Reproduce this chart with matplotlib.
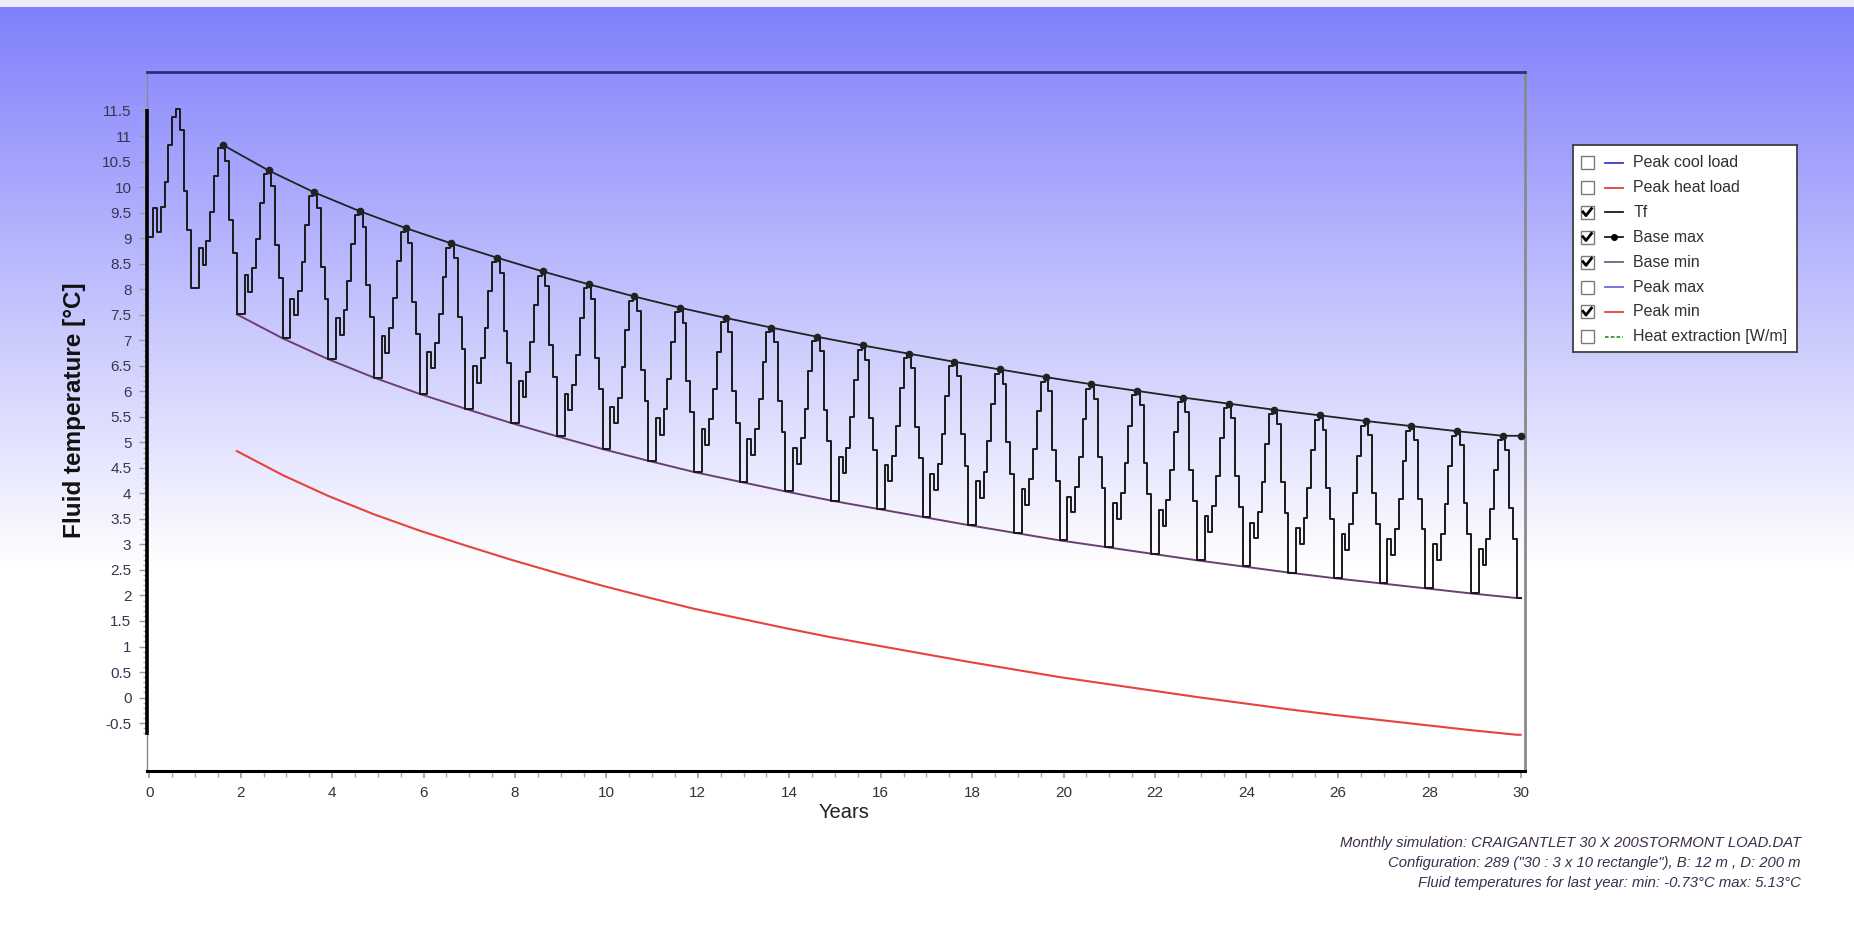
import numpy as np
import matplotlib
matplotlib.use("Agg")
import matplotlib.pyplot as plt
from matplotlib.patches import Rectangle
from matplotlib.ticker import MultipleLocator, FixedLocator, FormatStrFormatter

plt.rcParams['font.family'] = ['Liberation Sans', 'DejaVu Sans']

# monthly fluid temperature Tf [°C], one row per simulation year (Jan..Dec)
tf_monthly = [
    [9.03, 9.59, 9.13, 9.62, 10.11, 10.83, 11.38, 11.53, 11.12, 9.92, 9.17, 8.02],
    [8.02, 8.81, 8.47, 8.95, 9.51, 10.22, 10.77, 10.83, 10.52, 9.35, 8.71, 7.51],
    [7.51, 8.28, 7.94, 8.42, 8.99, 9.70, 10.26, 10.33, 10.03, 8.86, 8.22, 7.04],
    [7.04, 7.82, 7.49, 7.97, 8.54, 9.26, 9.83, 9.90, 9.60, 8.44, 7.81, 6.63],
    [6.63, 7.43, 7.10, 7.59, 8.16, 8.89, 9.46, 9.53, 9.23, 8.08, 7.45, 6.27],
    [6.27, 7.08, 6.76, 7.25, 7.83, 8.55, 9.13, 9.20, 8.91, 7.75, 7.13, 5.95],
    [5.95, 6.77, 6.45, 6.94, 7.52, 8.25, 8.82, 8.90, 8.61, 7.45, 6.83, 5.66],
    [5.66, 6.49, 6.16, 6.66, 7.24, 7.97, 8.54, 8.62, 8.33, 7.18, 6.55, 5.38],
    [5.38, 6.21, 5.89, 6.38, 6.96, 7.69, 8.27, 8.35, 8.06, 6.91, 6.29, 5.12],
    [5.12, 5.95, 5.63, 6.13, 6.71, 7.44, 8.02, 8.10, 7.81, 6.66, 6.04, 4.87],
    [4.87, 5.70, 5.38, 5.88, 6.47, 7.20, 7.78, 7.86, 7.57, 6.42, 5.81, 4.64],
    [4.64, 5.47, 5.15, 5.66, 6.24, 6.97, 7.56, 7.64, 7.35, 6.21, 5.59, 4.42],
    [4.42, 5.27, 4.95, 5.45, 6.04, 6.77, 7.36, 7.44, 7.16, 6.01, 5.39, 4.23],
    [4.23, 5.07, 4.76, 5.26, 5.85, 6.58, 7.17, 7.25, 6.97, 5.82, 5.21, 4.04],
    [4.04, 4.89, 4.57, 5.08, 5.66, 6.40, 6.99, 7.07, 6.79, 5.64, 5.03, 3.86],
    [3.86, 4.71, 4.40, 4.90, 5.49, 6.23, 6.81, 6.90, 6.62, 5.47, 4.86, 3.70],
    [3.70, 4.55, 4.24, 4.74, 5.33, 6.07, 6.65, 6.74, 6.46, 5.31, 4.70, 3.54],
    [3.54, 4.39, 4.07, 4.58, 5.17, 5.91, 6.49, 6.58, 6.30, 5.16, 4.54, 3.38],
    [3.38, 4.24, 3.92, 4.43, 5.02, 5.76, 6.34, 6.43, 6.15, 5.01, 4.39, 3.23],
    [3.23, 4.08, 3.77, 4.28, 4.87, 5.61, 6.19, 6.28, 6.00, 4.86, 4.25, 3.08],
    [3.08, 3.94, 3.63, 4.13, 4.72, 5.46, 6.05, 6.14, 5.86, 4.72, 4.11, 2.95],
    [2.95, 3.81, 3.50, 4.00, 4.59, 5.33, 5.92, 6.01, 5.73, 4.59, 3.98, 2.82],
    [2.82, 3.67, 3.36, 3.87, 4.46, 5.20, 5.79, 5.88, 5.60, 4.46, 3.85, 2.69],
    [2.69, 3.55, 3.24, 3.75, 4.34, 5.08, 5.67, 5.76, 5.48, 4.34, 3.73, 2.57],
    [2.57, 3.43, 3.12, 3.63, 4.22, 4.96, 5.55, 5.64, 5.36, 4.22, 3.61, 2.45],
    [2.45, 3.32, 3.01, 3.52, 4.11, 4.85, 5.44, 5.53, 5.25, 4.11, 3.50, 2.34],
    [2.34, 3.20, 2.89, 3.40, 4.00, 4.74, 5.33, 5.42, 5.14, 4.00, 3.40, 2.24],
    [2.24, 3.10, 2.79, 3.30, 3.90, 4.64, 5.23, 5.32, 5.04, 3.90, 3.30, 2.14],
    [2.14, 3.00, 2.69, 3.20, 3.79, 4.54, 5.13, 5.22, 4.94, 3.81, 3.20, 2.04],
    [2.04, 2.91, 2.60, 3.11, 3.70, 4.45, 5.04, 5.13, 4.85, 3.72, 3.11, 1.95],
]

# yearly envelopes (years 1..29, last value at year 30)
base_max_years = list(np.arange(1, 30) + 0.61) + [30.0]
base_max = [10.83, 10.33, 9.90, 9.53, 9.20, 8.90, 8.62, 8.35, 8.10, 7.86,
            7.64, 7.44, 7.25, 7.07, 6.90, 6.74, 6.58, 6.43, 6.28, 6.14,
            6.01, 5.88, 5.76, 5.64, 5.53, 5.42, 5.32, 5.22, 5.13, 5.13]

min_years = list(np.arange(1, 30) + 11 / 12) + [30.0]
base_min = [7.51, 7.04, 6.63, 6.27, 5.95, 5.66, 5.38, 5.12, 4.87, 4.64,
            4.42, 4.23, 4.04, 3.86, 3.70, 3.54, 3.38, 3.23, 3.08, 2.95,
            2.82, 2.69, 2.57, 2.45, 2.34, 2.24, 2.14, 2.04, 1.95, 1.95]
peak_min = [4.83, 4.36, 3.95, 3.59, 3.27, 2.98, 2.70, 2.44, 2.19, 1.96,
            1.74, 1.55, 1.36, 1.18, 1.02, 0.86, 0.70, 0.55, 0.40, 0.27,
            0.14, 0.01, -0.11, -0.23, -0.34, -0.44, -0.54, -0.64, -0.73, -0.73]

legend_labels = ["Peak cool load", "Peak heat load", "Tf", "Base max",
                 "Base min", "Peak max", "Peak min", "Heat extraction [W/m]"]
legend_checked = [False, False, True, True, True, False, True, False]
legend_colors = ["#3a3ad0", "#e83a3a", "#1a1a1a", "#1a1a1a",
                 "#7a5a80", "#6a6ae8", "#e84040", "#2a9a2a"]

info_lines = [
    "Monthly simulation: CRAIGANTLET 30 X 200STORMONT LOAD.DAT",
    "Configuration: 289 (\"30 : 3 x 10 rectangle\"), B: 12 m , D: 200 m",
    "Fluid temperatures for last year: min: -0.73°C max: 5.13°C",
]

W, H = 1854, 926
fig = plt.figure(figsize=(W / 100, H / 100), dpi=100)

# background gradient blue -> white
bg = fig.add_axes([0, 0, 1, 1], zorder=-10)
rows = np.arange(H)
t = np.clip((rows - 7) / 560.0, 0, 1)
grad = np.ones((H, 1, 3))
grad[:, 0, 0] = (128 + 127 * t) / 255
grad[:, 0, 1] = (128 + 127 * t) / 255
grad[:, 0, 2] = (252 + 3 * t) / 255
grad[:7] = (0.93, 0.93, 0.98)
bg.imshow(grad, aspect='auto', extent=(0, 1, 0, 1))
bg.axis('off')

ax = fig.add_axes([146.7 / W, 1 - 771 / H, (1525 - 146.7) / W, (771 - 72) / H])
ax.set_facecolor('none')

tf = np.array(tf_monthly).ravel()
months = np.arange(len(tf) + 1) / 12
ax.step(months, np.append(tf, tf[-1]), where='post', color='#1a1a1a', lw=1.4, zorder=3)
ax.plot(min_years, base_min, color='#6b3f74', lw=1.4, zorder=2)
ax.plot(min_years, peak_min, color='#e8423a', lw=1.5, zorder=2)
ax.plot(base_max_years, base_max, color='#222222', lw=1.3, marker='o', ms=4.5, zorder=4)

x0, x1 = -0.057, 30.094
ax.set_xlim(x0, x1)
ax.set_ylim(-1.44, 12.26)
ax.set_xticks(np.arange(0, 31, 2))
ax.xaxis.set_minor_locator(MultipleLocator(0.5))
ax.set_yticks(np.arange(-0.5, 11.51, 0.5))
ax.yaxis.set_major_formatter(FormatStrFormatter('%g'))
ax.yaxis.set_minor_locator(FixedLocator(np.arange(-0.7, 11.55, 0.1)))

ax.tick_params(axis='y', which='major', length=6, width=1, color='#9a9a9a',
               pad=5, labelsize=11, labelcolor='#3a3550')
ax.tick_params(axis='y', which='minor', length=3, width=1, color='#b0b0b0')
ax.tick_params(axis='x', which='major', length=5, width=1.2, color='#9a9a9a',
               pad=6, labelsize=11, labelcolor='#333333')
ax.tick_params(axis='x', which='minor', length=4, width=1, color='#a8a8a8')

ax.spines['left'].set_color('#8a8a8a')
ax.spines['left'].set_linewidth(1)
ax.spines['bottom'].set_color('black')
ax.spines['bottom'].set_linewidth(2.2)
ax.spines['right'].set_color('#8a8a8a')
ax.spines['right'].set_linewidth(2)
ax.spines['top'].set_color('#2e2e7a')
ax.spines['top'].set_linewidth(2)

# thick bar on the y axis covering the data range
lo, hi = min(peak_min), tf.max()
ax.plot([x0, x0], [lo, hi], color='black', lw=2.6, clip_on=False,
        solid_capstyle='butt', zorder=5)

fig.text(75 / W, 1 - 410 / H, "Fluid temperature [°C]", rotation=90,
         ha='center', va='center', fontsize=17.5, fontweight='bold', color='#111111')
fig.text(844 / W, 1 - 813 / H, "Years", ha='center', va='center',
         fontsize=14.5, color='#222222')

for i, line in enumerate(info_lines):
    fig.text(1801 / W, 1 - (843 + 20 * i) / H, line, ha='right', va='center',
             fontsize=10.7, style='italic', color='#3d2d4d')

# legend box with check boxes
lg = fig.add_axes([1573 / W, 1 - 352 / H, 224 / W, 207 / H])
lg.set_xlim(0, 224)
lg.set_ylim(207, 0)
lg.set_facecolor('white')
lg.set_xticks([])
lg.set_yticks([])
for s in lg.spines.values():
    s.set_color('#404040')
    s.set_linewidth(1.3)

for i in range(len(legend_labels)):
    cy = 17.7 + i * 24.86
    lg.add_patch(Rectangle((7.5, cy - 6.5), 13, 13, facecolor='white',
                           edgecolor='#7a7a7a', lw=1))
    if legend_checked[i]:
        lg.plot([10.0, 13.0, 18.5], [cy - 0.5, cy + 3.2, cy - 3.8], color='black', lw=2)
    style = '--' if i == 7 else '-'
    lg.plot([32, 50.3], [cy, cy], color=legend_colors[i], ls=style, lw=1.3,
            dashes=(2, 1.2) if i == 7 else (None, None))
    if i == 3:
        lg.plot([41], [cy], marker='o', ms=4, color='black')
    lg.text(60.3, cy, legend_labels[i], va='center', fontsize=11.5, color='#303030')

fig.savefig('out.png', dpi=100)
